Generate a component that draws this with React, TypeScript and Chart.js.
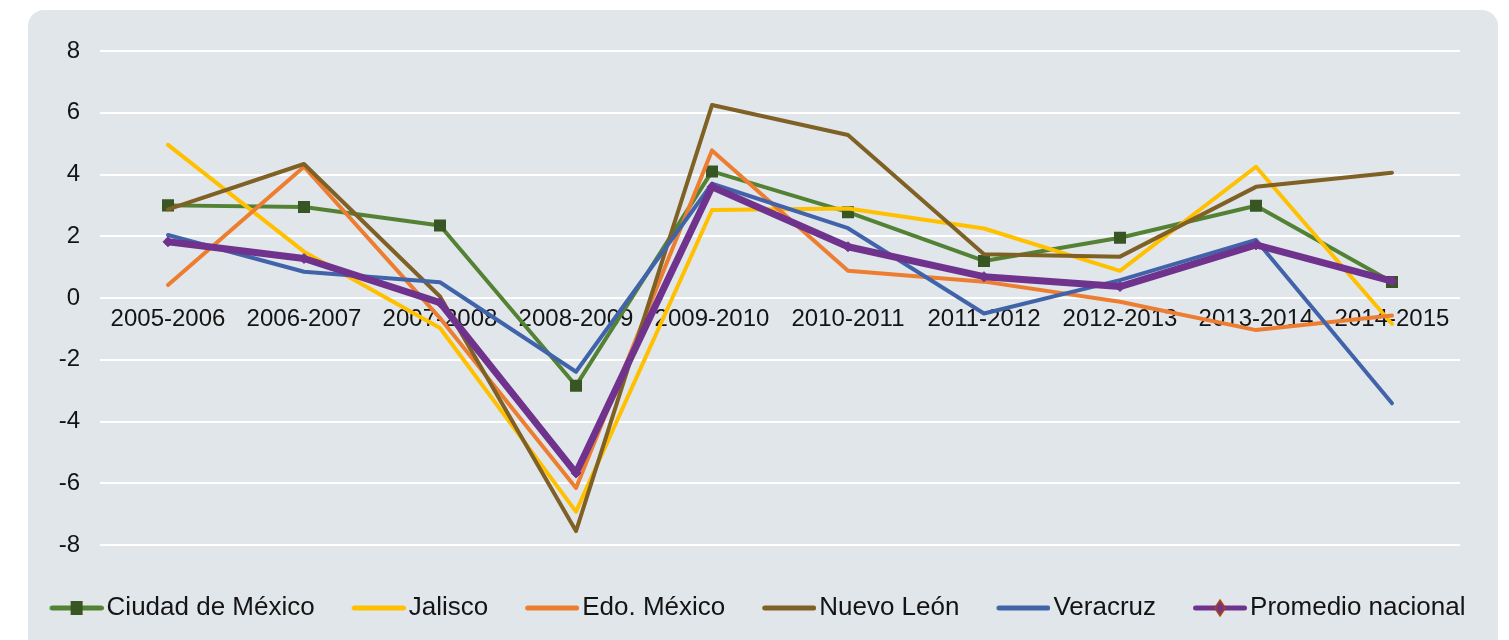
import React, { useEffect, useRef } from 'react';
import { Chart, registerables } from 'chart.js';

Chart.register(...registerables);

const categories = [
  '2005-2006', '2006-2007', '2007-2008', '2008-2009', '2009-2010',
  '2010-2011', '2011-2012', '2012-2013', '2013-2014', '2014-2015',
];

const seriesNames = ['Ciudad de México', 'Jalisco', 'Edo. México', 'Nuevo León', 'Veracruz', 'Promedio nacional'];

const ciudadMexico = [3.0, 2.95, 2.35, -2.84, 4.1, 2.78, 1.2, 1.95, 2.99, 0.52];
const jalisco = [4.96, 1.5, -0.97, -6.92, 2.85, 2.9, 2.25, 0.88, 4.25, -0.84];
const edoMexico = [0.42, 4.25, -0.65, -6.15, 4.78, 0.88, 0.53, -0.12, -1.04, -0.57];
const nuevoLeon = [2.87, 4.34, 0.05, -7.55, 6.25, 5.28, 1.42, 1.34, 3.6, 4.06];
const veracruz = [2.04, 0.85, 0.51, -2.39, 3.7, 2.26, -0.5, 0.58, 1.88, -3.41];
const promedioNacional = [1.82, 1.28, -0.15, -5.67, 3.6, 1.66, 0.69, 0.37, 1.72, 0.55];

const yMin = -8;
const yMax = 8;
const yStep = 2;

const FONT = "'Liberation Sans', Arial, Helvetica, sans-serif";
const TEXT = '#141414';

const lineColors = ['#548235', '#FFC000', '#ED7D31', '#7F6025', '#4163AA', '#70338D'];
const lineWidths = [4, 4, 4, 4, 4, 7];

function makeIcon(color: string, lw: number, marker: 'none' | 'square' | 'diamond') {
  const c = document.createElement('canvas');
  c.width = 64;
  c.height = 20;
  const ctx = c.getContext('2d')!;
  ctx.strokeStyle = color;
  ctx.lineWidth = lw;
  ctx.lineCap = 'round';
  ctx.beginPath();
  ctx.moveTo(10 + lw / 2, 10);
  ctx.lineTo(64 - lw / 2, 10);
  ctx.stroke();
  if (marker === 'square') {
    ctx.fillStyle = '#375623';
    ctx.fillRect(37 - 6, 10 - 7, 12, 14);
  } else if (marker === 'diamond') {
    ctx.beginPath();
    ctx.moveTo(37, 2.5);
    ctx.lineTo(42, 10);
    ctx.lineTo(37, 17.5);
    ctx.lineTo(32, 10);
    ctx.closePath();
    ctx.fillStyle = color;
    ctx.fill();
    ctx.strokeStyle = '#A0441E';
    ctx.lineWidth = 2;
    ctx.stroke();
  }
  return c;
}

export default function App() {
  const ref = useRef<HTMLCanvasElement>(null);

  useEffect(() => {
    const icons = [
      makeIcon(lineColors[0], 5, 'square'),
      makeIcon(lineColors[1], 5, 'none'),
      makeIcon(lineColors[2], 5, 'none'),
      makeIcon(lineColors[3], 5, 'none'),
      makeIcon(lineColors[4], 5, 'none'),
      makeIcon(lineColors[5], 5, 'diamond'),
    ];
    const allData = [ciudadMexico, jalisco, edoMexico, nuevoLeon, veracruz, promedioNacional];
    const datasets = allData.map((d, i) => {
      const base: any = {
        label: seriesNames[i],
        data: d,
        borderColor: lineColors[i],
        backgroundColor: lineColors[i],
        borderWidth: lineWidths[i],
        borderCapStyle: 'round',
        borderJoinStyle: 'round',
        tension: 0,
        fill: false,
        pointRadius: 0,
        pointHoverRadius: 0,
        order: allData.length - 1 - i,
      };
      if (i === 0) {
        base.pointStyle = 'rect';
        base.pointRadius = 8.5;
        base.pointBackgroundColor = '#375623';
        base.pointBorderColor = '#375623';
        base.pointBorderWidth = 0;
      }
      if (i === 5) {
        base.pointStyle = 'rectRot';
        base.pointRadius = 5;
        base.pointBackgroundColor = lineColors[5];
        base.pointBorderColor = lineColors[5];
        base.pointBorderWidth = 1;
      }
      return base;
    });

    const chart = new Chart(ref.current!, {
      type: 'line',
      data: { labels: categories, datasets },
      options: {
        animation: false,
        responsive: false,
        maintainAspectRatio: false,
        layout: { padding: { left: 6, right: 0, top: 51, bottom: 9 } },
        scales: {
          x: {
            type: 'category',
            offset: true,
            position: { y: 0 } as any,
            grid: { display: false, drawTicks: false },
            border: { display: false },
            ticks: {
              font: { family: FONT, size: 24 },
              color: TEXT,
              padding: 7,
              maxRotation: 0,
              autoSkip: false,
            },
          },
          xPad: {
            type: 'linear',
            axis: 'x',
            position: 'bottom',
            display: true,
            grid: { display: false, drawTicks: false },
            border: { display: false },
            ticks: { display: false },
            afterFit: (s: any) => { s.height = 13; },
          } as any,
          y: {
            min: yMin,
            max: yMax,
            position: 'left',
            ticks: {
              stepSize: yStep,
              font: { family: FONT, size: 24 },
              color: TEXT,
              padding: 20,
            },
            grid: { color: '#ffffff', lineWidth: 2, drawTicks: false },
            border: { display: false },
            afterFit: (s: any) => { s.width = 94; },
          },
          yRight: {
            type: 'linear',
            axis: 'y',
            position: 'right',
            display: true,
            grid: { display: false, drawTicks: false },
            border: { display: false },
            ticks: { display: false },
            afterFit: (s: any) => { s.width = 49; },
          } as any,
        },
        plugins: {
          tooltip: { enabled: false },
          legend: {
            position: 'bottom',
            labels: {
              usePointStyle: true,
              pointStyleWidth: 44,
              padding: 37,
              font: { family: FONT, size: 26 },
              color: TEXT,
              generateLabels: (c: any) =>
                c.data.datasets.map((ds: any, i: number) => ({
                  text: ds.label,
                  datasetIndex: i,
                  pointStyle: icons[i],
                  fillStyle: 'rgba(0,0,0,0)',
                  strokeStyle: 'rgba(0,0,0,0)',
                  lineWidth: 0,
                  hidden: false,
                  fontColor: TEXT,
                })),
            },
          },
        },
      },
    });
    return () => chart.destroy();
  }, []);

  return (
    <div style={{ position: 'fixed', left: 0, top: 0, width: 1509, height: 640, overflow: 'hidden', background: '#ffffff' }}>
      <div style={{ position: 'absolute', left: 28, top: 10, width: 1470, height: 700, borderRadius: 16, background: '#E1E6EA' }} />
      <canvas ref={ref} width={1509} height={640} style={{ position: 'absolute', left: 0, top: 0, width: 1509, height: 640 }} />
    </div>
  );
}
